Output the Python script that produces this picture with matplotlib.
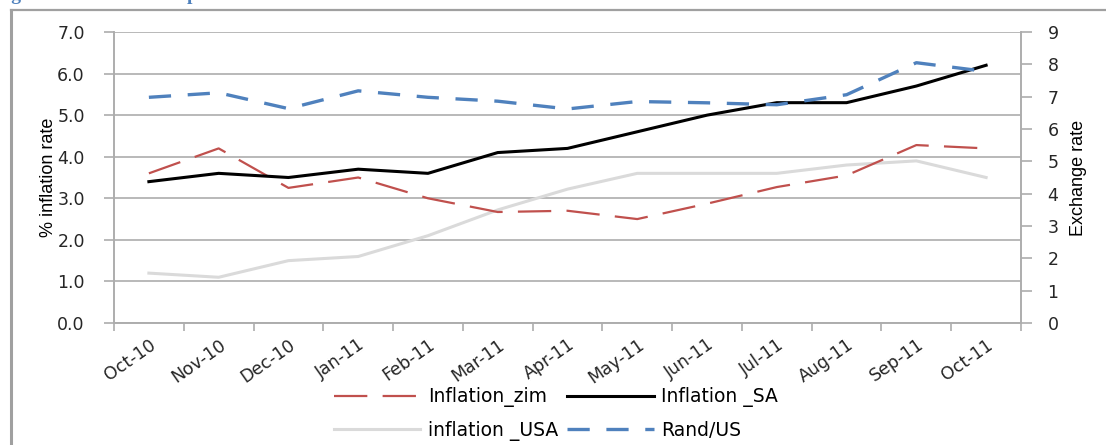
import matplotlib
matplotlib.use('Agg')
import matplotlib.pyplot as plt
from matplotlib.lines import Line2D
import numpy as np

plt.rcParams['lines.scale_dashes'] = False

months = ['Oct-10', 'Nov-10', 'Dec-10', 'Jan-11', 'Feb-11', 'Mar-11', 'Apr-11',
          'May-11', 'Jun-11', 'Jul-11', 'Aug-11', 'Sep-11', 'Oct-11']
inflation_zim = [3.6, 4.2, 3.25, 3.5, 3.0, 2.67, 2.7, 2.5, 2.87, 3.27, 3.55, 4.28, 4.2]
inflation_sa = [3.4, 3.6, 3.5, 3.7, 3.6, 4.1, 4.2, 4.6, 5.0, 5.3, 5.3, 5.7, 6.2]
inflation_usa = [1.2, 1.1, 1.5, 1.6, 2.1, 2.72, 3.22, 3.6, 3.6, 3.6, 3.8, 3.9, 3.5]
rand_us = [6.98, 7.12, 6.63, 7.18, 6.98, 6.86, 6.62, 6.85, 6.81, 6.75, 7.06, 8.05, 7.78]

GRID = '#ADADAD'
RED = '#C0504D'
BLUE = '#4F81BD'
LIGHT = '#DADADA'
TXT = '#262626'

fig = plt.figure(figsize=(11.06, 4.45), dpi=100)
ax = fig.add_axes([114 / 1106, 1 - 323 / 445, (1021 - 114) / 1106, (323 - 32) / 445])
ax2 = ax.twinx()

x = np.arange(len(months))
l_usa, = ax.plot(x, inflation_usa, color=LIGHT, lw=2.2, label='inflation _USA')
l_zim, = ax.plot(x, inflation_zim, color=RED, lw=1.6, dashes=(24, 11), label='Inflation_zim')
l_sa, = ax.plot(x, inflation_sa, color='black', lw=2.2, label='Inflation _SA')
l_rand, = ax2.plot(x, rand_us, color=BLUE, lw=2.4, dashes=(16, 12), label='Rand/US')

ax.set_ylim(0, 7)
ax.set_yticks(np.arange(0, 7.01, 1))
ax.set_yticklabels(['%.1f' % v for v in np.arange(0, 7.01, 1)])
ax2.set_ylim(0, 9)
ax2.set_yticks(range(10))

ax.set_xlim(-0.5, len(months) - 0.5)
ax.set_xticks(x)
ax.set_xticklabels(months, rotation=35, ha='right', rotation_mode='anchor')
ax.set_xticks(np.arange(-0.5, len(months), 1), minor=True)
ax.tick_params(axis='x', which='major', length=0, pad=9, labelsize=12.5, labelcolor=TXT)
ax.tick_params(axis='x', which='minor', length=6, color=GRID, width=1.2)
ax.tick_params(axis='y', length=7, color=GRID, width=1.2, pad=14, labelsize=12.5, labelcolor=TXT)
ax2.tick_params(axis='y', length=8, color=GRID, width=1.2, pad=11, labelsize=12.5, labelcolor=TXT)

ax.grid(axis='y', color=GRID, lw=1.2)
ax.set_axisbelow(True)
for a in (ax, ax2):
    a.spines['top'].set_visible(False)
    for s in ('left', 'right', 'bottom'):
        a.spines[s].set_color(GRID)
        a.spines[s].set_linewidth(1.2)

ax.set_ylabel('% inflation rate', family='Liberation Sans', fontsize=13, labelpad=0)
ax2.set_ylabel('Exchange rate', family='Liberation Sans', fontsize=13, labelpad=8)

# legend filled row by row: zim, SA / USA, Rand
fig.legend(handles=[l_zim, l_usa, l_sa, l_rand], ncol=2, loc='center',
           bbox_to_anchor=(556 / 1106, 1 - 414 / 445), frameon=False, fontsize=13.5,
           handlelength=4.6, handletextpad=0.4, columnspacing=0.5, labelspacing=0.7)

# frame of the embedded picture
fig.add_artist(Line2D([11 / 1106, 11 / 1106], [0, 1 - 10 / 445], color='#A0A0A0', lw=2.2))
fig.add_artist(Line2D([11 / 1106, 1], [1 - 10 / 445, 1 - 10 / 445], color='#A0A0A0', lw=1.6))
fig.text(-6 / 1106, 1.001, 'Figure 1: Inflation comparison', color=BLUE, fontsize=14,
         fontweight='bold', family='Liberation Serif', va='baseline')

fig.savefig('out.png', dpi=100)
